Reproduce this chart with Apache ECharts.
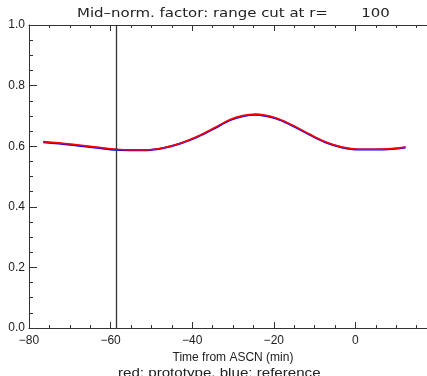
<!DOCTYPE html>
<html>
<head>
<meta charset="utf-8">
<script src="https://cdn.jsdelivr.net/npm/echarts@6/dist/echarts.min.js"></script>
<style>
html,body{margin:0;padding:0;background:#fff;}
#c{width:427px;height:376px;}
</style>
</head>
<body>
<div id="c"></div>
<script>
var titleText = 'Mid\u2013norm. factor: range cut at r=       100';
var xAxisTitle = 'Time from ASCN (min)';
var subTitle = 'red: prototype, blue: reference';
var timeMin = [-76.5, -69.9, -63.4, -58.5, -55.2, -51.1, -47.0, -42.9, -38.8, -34.8, -30.7, -27.6, -24.5, -19.6, -15.5, -11.4, -7.4, -3.3, 0.8, 4.9, 9.0, 12.3];
var prototypeVals = [0.615, 0.607, 0.597, 0.590, 0.588, 0.588, 0.595, 0.610, 0.632, 0.659, 0.688, 0.701, 0.706, 0.694, 0.670, 0.641, 0.615, 0.597, 0.590, 0.590, 0.592, 0.597];
var referenceVals = [0.613, 0.605, 0.595, 0.588, 0.587, 0.587, 0.594, 0.609, 0.630, 0.657, 0.686, 0.699, 0.704, 0.692, 0.668, 0.639, 0.613, 0.596, 0.589, 0.589, 0.591, 0.596];
var cutLineX = [-58.5];

function pairs(xs, ys){ return xs.map(function(x,i){ return [x, ys[i]]; }); }
var axisColor = '#333';
var font = 'Liberation Sans';
var chart = echarts.init(document.getElementById('c'), null, {renderer:'canvas'});
chart.setOption({
  animation:false,
  backgroundColor:'#fff',
  grid:{left:29, top:25, width:408, height:303, outerBoundsMode:'none', containLabel:false},
  xAxis:[{
    type:'value', min:-80, max:20, interval:20, position:'bottom',
    axisLine:{show:true, onZero:false, lineStyle:{color:axisColor, width:1}},
    axisTick:{show:true, inside:true, length:6, lineStyle:{color:axisColor}},
    minorTick:{show:true, splitNumber:4, length:3, lineStyle:{color:axisColor}},
    splitLine:{show:false},
    axisLabel:{margin:7, color:'#222', fontFamily:font, fontSize:12,
      formatter:function(v){ return String(v).replace('-', '\u2212'); }},
    name:xAxisTitle, nameLocation:'middle', nameGap:22,
    nameTextStyle:{fontFamily:font, fontSize:12, color:'#222'}
  },{
    type:'value', min:-80, max:20, interval:20, position:'top',
    axisLine:{show:true, onZero:false, lineStyle:{color:axisColor, width:1}},
    axisTick:{show:true, inside:true, length:6, lineStyle:{color:axisColor}},
    minorTick:{show:true, splitNumber:4, length:3, lineStyle:{color:axisColor}},
    splitLine:{show:false},
    axisLabel:{show:false}
  }],
  yAxis:[{
    type:'value', min:0, max:1, interval:0.2,
    axisLine:{show:true, onZero:false, lineStyle:{color:axisColor, width:1}},
    axisTick:{show:true, inside:true, length:8, lineStyle:{color:axisColor}},
    minorTick:{show:true, splitNumber:4, length:4, lineStyle:{color:axisColor}},
    splitLine:{show:false},
    axisLabel:{margin:4, color:'#222', fontFamily:font, fontSize:12,
      formatter:function(v){ return v.toFixed(1); }}
  }],
  graphic:[
    {type:'text', x:77, y:14, scaleX:1.15, z:10,
      style:{text:titleText, font:'13px "DejaVu Sans"', fill:'#222', textVerticalAlign:'middle', textAlign:'left'}},
    {type:'text', x:118, y:368, scaleX:1.26, z:10,
      style:{text:subTitle, font:'12px "Liberation Sans"', fill:'#222', textVerticalAlign:'top', textAlign:'left'}}
  ],
  series:[{
    type:'line', name:'reference', data:pairs(timeMin, referenceVals), smooth:0.35,
    symbol:'none', lineStyle:{color:'#0000ff', width:2}, z:2
  },{
    type:'line', name:'prototype', data:pairs(timeMin, prototypeVals), smooth:0.35,
    symbol:'none', lineStyle:{color:'#ff0000', width:1.6}, z:3,
    markLine:{silent:true, symbol:['none','none'], label:{show:false},
      lineStyle:{color:'#333', width:1.3, type:'solid'},
      data:cutLineX.map(function(x){ return {xAxis:x}; })}
  }]
});
</script>
</body>
</html>
